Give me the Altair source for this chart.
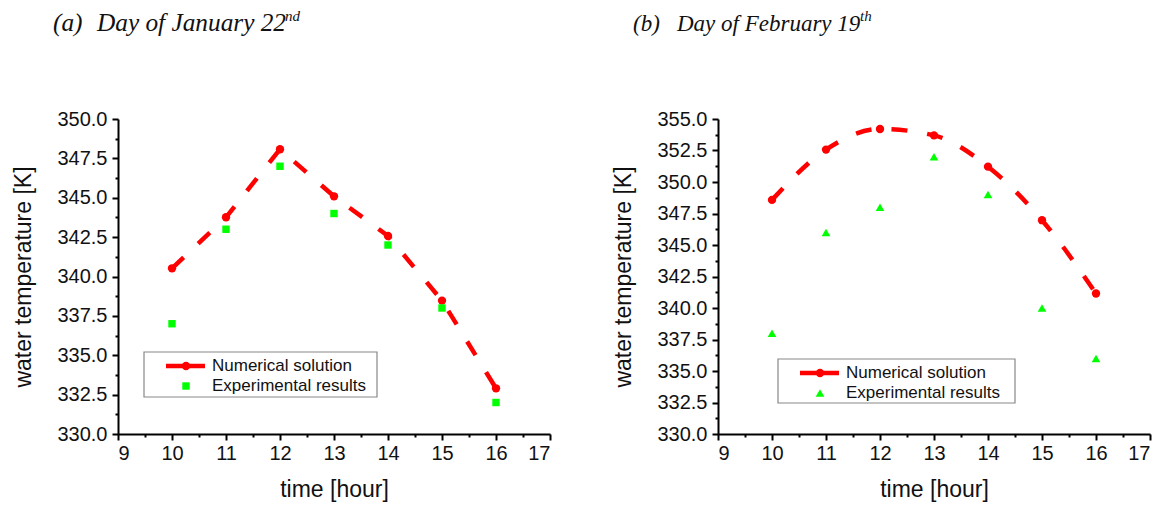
import altair as alt
import pandas as pd

hours = [10, 11, 12, 13, 14, 15, 16]
jan_num = [340.52, 343.76, 348.08, 345.09, 342.57, 338.47, 332.9]
jan_exp = [337.0, 343.0, 347.0, 344.0, 342.0, 338.0, 332.0]
feb_num = [348.58, 352.57, 354.21, 353.7, 351.22, 346.97, 341.15]
feb_exp = [338.0, 346.0, 348.0, 352.0, 349.0, 340.0, 336.0]

x_ticks = [9, 9.5, 10, 10.5, 11, 11.5, 12, 12.5, 13, 13.5, 14, 14.5, 15, 15.5, 16, 16.5, 17]
jan_y_ticks = [330 + 1.25 * i for i in range(17)]
feb_y_ticks = [330 + 1.25 * i for i in range(21)]

legend_labels = ["Numerical solution", "Experimental results"]

RED = "#ff0000"
GREEN = "#00ff00"
FONT = "Liberation Sans"
SERIF = "Liberation Serif"
W, H = 432, 315


def one(v):
    return alt.Chart(pd.DataFrame({"t": [v]}))


def panel(num, exp, y_ticks, exp_shape, interp, tag, title, tsize, sup, sup_x, legend_pos):
    df = pd.DataFrame({"hour": hours, "num": num, "exp": exp})
    ydom = [y_ticks[0], y_ticks[-1]]
    xs = alt.Scale(domain=[9, 17], nice=False, zero=False)
    ys = alt.Scale(domain=ydom, nice=False, zero=False)

    xmaj = "datum.value % 1 === 0"
    ymaj = "datum.value % 2.5 === 0"
    common = dict(grid=False, tickWidth=2, domainWidth=2, domainColor="black",
                  tickColor="black", labelFont=FONT,
                  labelColor="#111", labelOverlap=False, titleFont=FONT,
                  titleFontSize=23, titleFontWeight="normal", titleColor="#111")
    x_ax = alt.Axis(values=x_ticks, title="time [hour]",
                    labelExpr="datum.value % 1 === 0 ? format(datum.value, 'd') : ''",
                    labelFontSize={"condition": {"test": xmaj, "value": 20}, "value": 1},
                    tickSize={"condition": {"test": xmaj, "value": 6}, "value": 3},
                    labelPadding=3, titlePadding=15, orient="bottom", **common)
    y_ax = alt.Axis(values=y_ticks, title="water temperature [K]",
                    labelExpr="datum.value % 2.5 === 0 ? format(datum.value, '.1f') : ''",
                    labelFontSize={"condition": {"test": ymaj, "value": 20}, "value": 1},
                    tickSize={"condition": {"test": ymaj, "value": 6}, "value": 3},
                    labelPadding=5, titlePadding=21, orient="left", **common)

    base = alt.Chart(df)
    line = base.mark_line(color=RED, strokeWidth=4.5, strokeDash=[16, 20],
                          interpolate=interp).encode(
        x=alt.X("hour:Q", scale=xs, axis=x_ax),
        y=alt.Y("num:Q", scale=ys, axis=y_ax),
    )
    pts = base.mark_point(filled=True, color=RED, size=70, opacity=1,
                          shape="circle").encode(
        x=alt.X("hour:Q", scale=xs, axis=x_ax), y=alt.Y("num:Q", scale=ys, axis=y_ax))
    esize = 55 if exp_shape == "square" else 75
    epts = base.mark_point(filled=True, color=GREEN, size=esize,
                           opacity=1, shape=exp_shape).encode(
        x=alt.X("hour:Q", scale=xs, axis=x_ax), y=alt.Y("exp:Q", scale=ys, axis=y_ax))

    lx, ly, lw, lh = legend_pos
    box = one(0).mark_rect(fill="white", stroke="#888", strokeWidth=1.2).encode(
        x=alt.value(lx), x2=alt.value(lx + lw), y=alt.value(ly), y2=alt.value(ly + lh))
    lline = one(0).mark_rule(color=RED, strokeWidth=4.5).encode(
        x=alt.value(lx + 22), x2=alt.value(lx + 61), y=alt.value(ly + 14))
    ldot = one(0).mark_point(filled=True, color=RED, size=70, opacity=1,
                             shape="circle").encode(
        x=alt.value(lx + 42), y=alt.value(ly + 14))
    lexp = one(0).mark_point(filled=True, color=GREEN, size=esize, opacity=1,
                             shape=exp_shape).encode(
        x=alt.value(lx + 42), y=alt.value(ly + 34))
    ltext1 = one(legend_labels[0]).mark_text(
        align="left", baseline="middle", font=FONT, fontSize=17, color="#111").encode(
        text="t:N", x=alt.value(lx + 68), y=alt.value(ly + 14))
    ltext2 = one(legend_labels[1]).mark_text(
        align="left", baseline="middle", font=FONT, fontSize=17, color="#111").encode(
        text="t:N", x=alt.value(lx + 68), y=alt.value(ly + 34))

    tstyle = dict(align="left", baseline="alphabetic", font=SERIF,
                  fontStyle="italic", color="#111")
    t1 = one(tag).mark_text(fontSize=tsize, **tstyle).encode(
        text="t:N", x=alt.value(title[0]), y=alt.value(-88))
    t2 = one(title[2]).mark_text(fontSize=tsize, **tstyle).encode(
        text="t:N", x=alt.value(title[1]), y=alt.value(-88))
    t3 = one(sup).mark_text(fontSize=15, **tstyle).encode(
        text="t:N", x=alt.value(sup_x), y=alt.value(-98))

    layered = alt.layer(line, pts, epts, box, lline, ldot, lexp, ltext1, ltext2,
                        t1, t2, t3)
    return layered.properties(width=W, height=H)


left = panel(jan_num, jan_exp, jan_y_ticks, "square", "linear", "(a)",
             (-65, -21, "Day of January 22"), 25.3, "nd", 167, (26, 233, 233, 45))
right = panel(feb_num, feb_exp, feb_y_ticks, "triangle-up", "monotone", "(b)",
              (-85, -41, "Day of February 19"), 23.0, "th", 142, (60, 240, 237, 44))

chart = alt.hconcat(left, right, spacing=61).properties(
    padding={"left": 4, "top": 1, "right": 5, "bottom": 5}
).configure(background="white").configure_view(strokeWidth=0, stroke="transparent")

chart.save("out.html", embed_options={"renderer": "svg", "actions": False})
